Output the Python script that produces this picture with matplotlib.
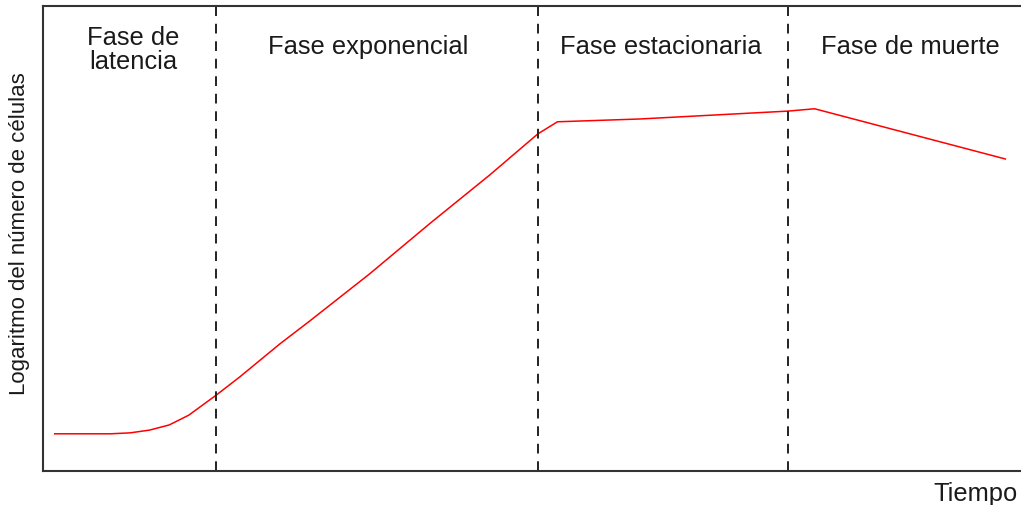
import matplotlib
matplotlib.use('Agg')
import matplotlib.pyplot as plt

plt.rcParams['font.family'] = ['Liberation Sans', 'DejaVu Sans']

# curva de crecimiento (tiempo y log del numero de celulas, unidades arbitrarias 0-100)
tiempo = [1.2, 6.9, 8.9, 10.9, 12.9, 14.9, 17.7, 20.1, 24.2, 27.3, 33.4, 39.6, 45.7,
          50.6, 52.6, 61.0, 76.2, 78.9, 98.4]
log_celulas = [8.0, 8.0, 8.2, 8.8, 9.9, 12.0, 16.3, 20.2, 27.3, 32.3, 42.4, 53.3, 63.7,
               72.5, 75.1, 75.7, 77.4, 77.9, 67.1]

# limites entre fases
limites = [17.7, 50.6, 76.2]

fases = ['Fase de\nlatencia', 'Fase exponencial', 'Fase estacionaria', 'Fase de muerte']
fases_x = [9.2, 33.2, 63.2, 88.7]
fases_y = [90.8, 91.4, 91.4, 91.4]

fig = plt.figure(figsize=(10.21, 5.06), dpi=100)
ax = fig.add_axes([43 / 1021, 34 / 506, 978 / 1021, 465 / 506])
ax.set_xlim(0, 100)
ax.set_ylim(0, 100)

ax.plot(tiempo, log_celulas, color='red', lw=1.1)

for x in limites:
    ax.axvline(x, color='#222222', lw=1.4, dashes=(5, 4))

for t, x, y in zip(fases, fases_x, fases_y):
    ax.text(x, y, t, ha='center', va='center', fontsize=18.4,
            color='#1a1a1a', linespacing=1.02)

ax.set_xticks([])
ax.set_yticks([])
for s in ['left', 'top', 'bottom']:
    ax.spines[s].set_color('#333333')
    ax.spines[s].set_linewidth(1.5)
ax.spines['right'].set_visible(False)

fig.text(975 / 1021, 1 - 494 / 506, 'Tiempo', ha='center', va='center',
         fontsize=18.4, color='#1a1a1a')
fig.text(20 / 1021, 1 - 234 / 506, 'Logaritmo del número de células',
         rotation=90, ha='center', va='center', fontsize=16, color='#1a1a1a')

fig.savefig('out.png', dpi=100, facecolor='white')
